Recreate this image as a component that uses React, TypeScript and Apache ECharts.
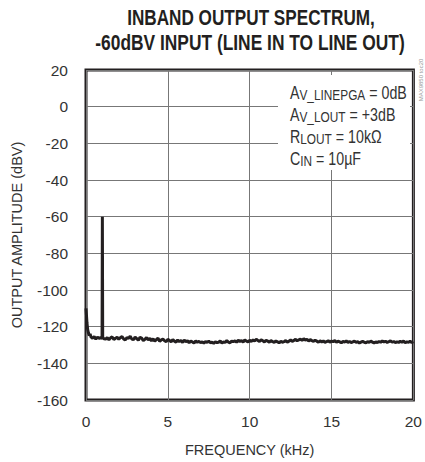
import React, { useEffect, useRef } from "react";
import * as echarts from "echarts";

// Spectrum near DC and the 1 kHz tone (kHz, dBV)
const headFreq = [0, 0.03, 0.06, 0.1, 0.15, 0.2, 0.25, 0.3, 0.4, 0.5, 0.6, 0.7, 0.8, 0.9, 0.98, 1.0, 1.02, 1.1];
const headDb = [-110, -114, -118, -121.5, -123.5, -124.8, -123.9, -125.6, -126.3, -125.4, -126.8, -125.7, -126.4, -125.9, -126.4, -60, -126.2, -126.6];

// Noise floor from 1.2 kHz to 20 kHz, one value every 0.1 kHz (dBV)
const noiseStart = 1.2;
const noiseStep = 0.1;
const noiseDb = [
  -126.8, -125.9, -127.2, -126.1, -125.6, -127.0, -126.3, -125.8, -126.9,
  -126.0, -125.4, -126.7, -127.3, -125.9, -126.4, -125.2, -126.8, -127.1, -125.7,
  -126.5, -127.4, -125.8, -126.2, -127.6, -126.9, -125.9, -127.3, -126.4, -127.8,
  -126.6, -127.9, -127.1, -126.3, -128.0, -127.2, -126.8, -127.7, -128.2, -126.9,
  -127.5, -128.3, -127.0, -127.9, -128.4, -127.3, -128.1, -127.6, -128.6, -127.4,
  -128.2, -127.7, -128.8, -127.9, -128.3, -128.9, -127.8, -128.5, -128.0, -128.7,
  -128.3, -129.0, -128.1, -128.6, -127.9, -128.8, -128.4, -129.1, -128.2, -128.7,
  -128.5, -127.8, -128.9, -128.3, -128.6, -127.6, -128.4, -128.8, -127.9, -128.2,
  -127.7, -128.5, -127.4, -128.1, -127.6, -128.4, -127.2, -127.9, -128.3, -127.5,
  -128.0, -127.3, -127.8, -126.9, -127.5, -128.1, -127.2, -127.7, -128.3, -127.4,
  -127.9, -128.4, -127.6, -128.2, -128.6, -127.8, -128.3, -128.8, -128.0, -128.5,
  -128.2, -127.6, -128.4, -127.9, -127.3, -128.0, -127.5, -126.9, -127.7, -127.2,
  -126.8, -127.5, -126.6, -127.3, -126.9, -127.8, -127.1, -127.6, -128.0, -127.4,
  -127.9, -128.5, -127.7, -128.3, -127.8, -128.6, -128.1, -127.7, -128.4, -127.9,
  -128.2, -127.6, -128.5, -127.9, -128.3, -128.8, -128.0, -128.4, -127.8, -128.6,
  -128.1, -128.7, -128.3, -127.9, -128.6, -128.2, -128.9, -128.4, -128.0, -128.5,
  -128.8, -128.2, -128.6, -127.9, -128.4, -128.9, -128.3, -128.7, -128.1, -128.5,
  -127.8, -128.3, -128.0, -128.6, -128.2, -127.7, -128.5, -128.1, -128.7, -128.3,
  -128.6, -128.0, -128.4, -127.9, -128.8, -128.3, -128.5, -128.0, -128.6, -128.2,
];

const titleLines = ["INBAND OUTPUT SPECTRUM,", "-60dBV INPUT (LINE IN TO LINE OUT)"];
const xName = "FREQUENCY (kHz)";
const yName = "OUTPUT AMPLITUDE (dBV)";
const noteLines = [
  "{m|A}{s|V_LINEPGA}{m| = 0dB}",
  "{m|A}{s|V_LOUT}{m| = +3dB}",
  "{m|R}{s|LOUT}{m| = 10kΩ}",
  "{m|C}{s|IN}{m| = 10µF}",
];

const FONT = "'Liberation Sans', Arial, sans-serif";
const INK = "#231f20";
const TXT = "#333";

export default function App() {
  const ref = useRef<HTMLDivElement>(null);

  useEffect(() => {
    if (!ref.current) return;
    const chart = echarts.init(ref.current, null, { renderer: "svg" });

    const data: [number, number][] = [];
    headFreq.forEach((f, i) => data.push([f, headDb[i]]));
    noiseDb.forEach((v, i) => data.push([+(noiseStart + i * noiseStep).toFixed(2), v]));

    const rich = {
      m: { fontFamily: FONT, fontSize: 18, color: TXT, lineHeight: 22, verticalAlign: "middle" as const },
      s: { fontFamily: FONT, fontSize: 15, color: TXT, lineHeight: 15, verticalAlign: "bottom" as const },
    };

    chart.setOption({
      animation: false,
      backgroundColor: "#fff",
      grid: {
        left: 86,
        right: 9,
        top: 70,
        bottom: 61.5,
        show: true,
        borderColor: INK,
        borderWidth: 3,
        backgroundColor: "transparent",
      },
      xAxis: {
        type: "value",
        min: 0,
        max: 20,
        interval: 5,
        name: xName,
        nameLocation: "middle",
        nameGap: 42,
        nameTextStyle: { fontFamily: FONT, fontSize: 14.5, color: TXT },
        axisLine: { show: false },
        axisTick: { show: false },
        axisLabel: { fontFamily: FONT, fontSize: 15.5, color: TXT, margin: 13 },
        splitLine: { show: true, lineStyle: { color: "#777", width: 1 } },
      },
      yAxis: {
        type: "value",
        min: -160,
        max: 20,
        interval: 20,
        name: yName,
        nameLocation: "middle",
        nameGap: 62,
        nameTextStyle: { fontFamily: FONT, fontSize: 14.5, color: TXT },
        axisLine: { show: false },
        axisTick: { show: false },
        axisLabel: { fontFamily: FONT, fontSize: 15.5, color: TXT, margin: 18 },
        splitLine: { show: true, lineStyle: { color: "#777", width: 1 } },
      },
      series: [
        {
          type: "line",
          data,
          showSymbol: false,
          symbol: "none",
          lineStyle: { color: INK, width: 3 },
          z: 3,
        },
      ],
      graphic: [
        {
          type: "text",
          x: 251,
          y: 17,
          scaleX: 0.78,
          style: {
            text: titleLines[0],
            font: `bold 22px ${FONT}`,
            fill: INK,
            align: "center",
            verticalAlign: "middle",
          },
        },
        {
          type: "text",
          x: 250,
          y: 42,
          scaleX: 0.79,
          style: {
            text: titleLines[1],
            font: `bold 22px ${FONT}`,
            fill: INK,
            align: "center",
            verticalAlign: "middle",
          },
        },
        {
          type: "rect",
          shape: { x: 278, y: 75, width: 132, height: 95 },
          style: { fill: "#fff" },
          z: 10,
        },
        ...noteLines.map((t, i) => ({
          type: "text",
          x: 290,
          y: 81 + i * 22,
          scaleX: 0.79,
          z: 11,
          style: {
            text: t,
            rich,
            fill: TXT,
            align: "left",
            verticalAlign: "top",
          },
        })),
        {
          type: "text",
          x: 421,
          y: 80,
          rotation: Math.PI / 2,
          style: {
            text: "MAX9850 toc20",
            font: `6px ${FONT}`,
            fill: "#999",
            align: "center",
            verticalAlign: "middle",
          },
        },
      ],
    });

    return () => chart.dispose();
  }, []);

  return (
    <div
      ref={ref}
      style={{ position: "absolute", left: 0, top: 0, width: 425, height: 462 }}
    />
  );
}
